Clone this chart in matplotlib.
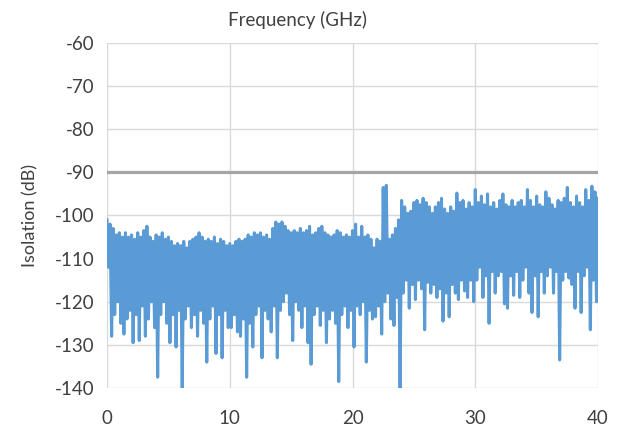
import matplotlib
matplotlib.use("Agg")
import matplotlib.pyplot as plt
import numpy as np

plt.rcParams['font.family'] = ['Lato', 'DejaVu Sans']
plt.rcParams['axes.unicode_minus'] = False

# Upper (peak) samples every 0.25 GHz starting at 0 GHz
hi_vals = [
    -101, -102, -103, -104.5, -104, -105, -104, -105, -104.5, -105.5,
    -104, -105, -103.5, -102.5, -105, -106, -104.5, -105, -104, -105.5,
    -105, -106, -107, -106.5, -107, -106, -107.5, -106, -105.5, -105,
    -104, -105, -106, -105.5, -106, -105, -106.5, -105.5, -106, -107,
    -106.5, -107, -106, -105.5, -106, -105.5, -104.5, -105, -104, -104.5,
    -104, -105, -104.5, -105.5, -103, -101.5, -102, -101.5, -102.5, -103.5,
    -104, -103.5, -104, -103, -104, -103.5, -102.5, -104.5, -104, -103,
    -102.5, -104, -104.5, -105, -104.5, -103.5, -104, -105, -104.5, -105,
    -103.5, -102, -105, -102.5, -105, -104.5, -105.5, -107.5, -105.5, -106,
    -93.5, -93, -105.5, -104.5, -103, -101, -96.5, -98, -99.5, -99,
    -97, -96.5, -97.5, -96, -97, -98, -99.5, -98, -97, -96,
    -98.5, -99.5, -98, -99, -94.8, -97, -96.5, -98.5, -97, -98,
    -94, -97, -95.5, -97.5, -95, -98, -97, -98.5, -96.5, -95,
    -97.5, -98, -96.5, -98, -97, -96.5, -98, -94, -96.5, -98,
    -95.5, -97.5, -98, -94.5, -96, -97.5, -98.5, -96.5, -97, -96,
    -93.5, -97, -98, -95.5, -97, -98, -94, -96.5, -93.2, -94.5,
    -96,
]

# Lower (dip) samples every 0.25 GHz starting at 0.125 GHz
lo_vals = [
    -112, -128, -123, -120, -125, -127.5, -124, -122, -129.5, -123,
    -129, -121, -128, -124, -120, -126, -137.5, -123, -120, -125,
    -129.5, -123, -130.5, -122, -140, -124, -121, -126, -123, -128,
    -122, -125, -134, -124, -121, -132, -123, -133, -122, -126,
    -126, -123, -127, -128, -124, -137.5, -125, -130.5, -123, -121,
    -133, -122, -124, -127, -121, -133, -122, -120, -118, -123,
    -129, -120, -122, -126, -121, -129.5, -134.5, -123, -121, -125.5,
    -122, -129.5, -124, -122, -125, -138.5, -123, -121, -126, -122,
    -130.5, -121, -123, -120, -134, -122, -124, -123.5, -121, -127.5,
    -120, -118, -124, -125.5, -119, -140.5, -118, -115, -121.5, -116,
    -119.5, -115, -117, -126.5, -115.5, -118, -116, -119, -117, -124.5,
    -118, -123.5, -116, -118, -119.5, -115, -117.5, -119, -115, -120,
    -115, -112, -119, -114, -125, -113, -118, -114, -113, -120.5,
    -121.5, -114, -118.5, -113, -119, -115, -112, -118, -122.5, -114,
    -123.5, -113, -118, -114, -112, -118, -113, -133.5, -115, -113,
    -114.5, -116, -121.5, -113, -122.5, -114, -112, -126.5, -115, -120,
]

limit_db = -90
step = 0.25

freq_hi = np.arange(len(hi_vals)) * step
freq_lo = np.arange(len(lo_vals)) * step + step / 2

freq = np.empty(len(hi_vals) + len(lo_vals))
iso = np.empty_like(freq)
freq[0::2] = freq_hi
freq[1::2] = freq_lo
iso[0::2] = hi_vals
iso[1::2] = lo_vals

fig = plt.figure(figsize=(6.19, 4.28), dpi=100)
ax = fig.add_axes([0.1729, 0.0935, 0.7932, 0.806])

ax.plot(freq, iso, color='#5B9BD5', lw=2.2, solid_joinstyle='round', zorder=3)
ax.plot([0, 40], [limit_db, limit_db], color='#A5A5A5', lw=2.3, zorder=2)

ax.set_xlim(0, 40)
ax.set_ylim(-140, -60)
ax.set_xticks([0, 10, 20, 30, 40])
ax.set_yticks(np.arange(-140, -59, 10))
ax.grid(True, color='#D9D9D9', lw=1.0)
ax.set_axisbelow(True)
for s in ax.spines.values():
    s.set_visible(False)
ax.tick_params(length=0, labelsize=13.5, colors='#404040')
ax.tick_params(axis='x', pad=16)
ax.tick_params(axis='y', pad=9)

ax.set_ylabel('Isolation (dB)', fontsize=13, color='#404040', labelpad=12)
fig.text(298 / 619, 1 - 20 / 428, 'Frequency (GHz)', fontsize=13.5,
         color='#404040', ha='center', va='center')

fig.savefig('out.png', dpi=100)
